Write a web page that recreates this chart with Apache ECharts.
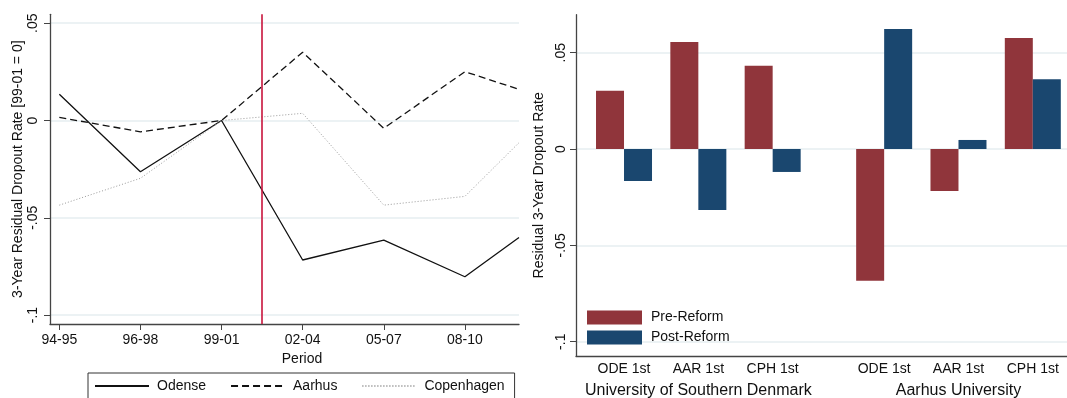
<!DOCTYPE html>
<html>
<head>
<meta charset="utf-8">
<script src="https://cdn.jsdelivr.net/npm/echarts@6/dist/echarts.min.js"></script>
<style>
  html, body { margin: 0; padding: 0; background: #fff; }
  #chart { width: 1067px; height: 398px; }
</style>
</head>
<body>
<div id="chart"></div>
<script>
// Left panel: residual dropout rate by period, normalised to 99-01
const periodLabels = ['94-95', '96-98', '99-01', '02-04', '05-07', '08-10'];
const periodIndex = [1, 2, 3, 4, 5, 6, 6.667];
const odense = [0.0135, -0.0263, 0, -0.0717, -0.0615, -0.0803, -0.0601];
const aarhus = [0.0016, -0.0058, 0, 0.0351, -0.0040, 0.0251, 0.0160];
const copenhagen = [-0.0435, -0.0297, 0, 0.0037, -0.0435, -0.0390, -0.0114];
const reformPeriod = 3.5;

// Right panel: residual 3-year dropout rate by university and applicant group
const deptLabels = ['ODE 1st', 'AAR 1st', 'CPH 1st', 'ODE 1st', 'AAR 1st', 'CPH 1st'];
const deptPos = [1, 2, 3, 4.5, 5.5, 6.5];
const universityLabels = ['University of Southern Denmark', 'Aarhus University'];
const universityPos = [2, 5.5];
const preReform = [0.0303, 0.0555, 0.0432, -0.0684, -0.0218, 0.0576];
const postReform = [-0.0166, -0.0317, -0.0119, 0.0623, 0.0047, 0.0362];

// Shared y ticks
const yTickValues = [-0.1, -0.05, 0, 0.05];
const yTickLabels = ['-.1', '-.05', '0', '.05'];

const FONT = "'Liberation Sans', Arial, sans-serif";
const AXIS_COLOR = '#444';
const GRID_COLOR = '#e6eef0';

function lookup(values, labels) {
  return function (v) {
    for (let i = 0; i < values.length; i++) {
      if (Math.abs(values[i] - v) < 1e-9) return labels[i];
    }
    return '';
  };
}

function pairs(xs, ys) { return ys.map((y, i) => [xs[i], y]); }

function yAxis(gridIndex, min, max, name, nameGap, labelMargin) {
  return {
    gridIndex: gridIndex, type: 'value', min: min, max: max,
    name: name, nameLocation: 'middle', nameRotate: 90, nameGap: nameGap,
    nameTextStyle: { fontSize: 14, color: '#111', fontFamily: FONT },
    axisLine: { show: true, onZero: false, lineStyle: { color: AXIS_COLOR, width: 1.3 } },
    axisTick: { show: true, length: 6, customValues: yTickValues, lineStyle: { color: AXIS_COLOR } },
    axisLabel: {
      customValues: yTickValues, rotate: 90, fontSize: 14, color: '#111', fontFamily: FONT,
      margin: labelMargin, formatter: lookup(yTickValues, yTickLabels)
    },
    splitLine: { show: true, lineStyle: { color: GRID_COLOR, width: 1.5 } }
  };
}

const chart = echarts.init(document.getElementById('chart'), null, { renderer: 'canvas' });

chart.setOption({
  animation: false,
  backgroundColor: '#fff',
  textStyle: { fontFamily: FONT },
  grid: [
    { left: 50, top: 14.3, width: 469, height: 309.7, containLabel: false, outerBoundsMode: 'none' },
    { left: 576, top: 14.7, width: 491, height: 341.3, containLabel: false, outerBoundsMode: 'none' }
  ],
  legend: [
    {
      data: ['Odense', 'Aarhus', 'Copenhagen'],
      left: 88, top: 373, orient: 'horizontal',
      itemWidth: 54, itemHeight: 14, itemGap: 24,
      padding: [6, 10, 6, 6],
      borderColor: '#333', borderWidth: 1,
      itemStyle: { opacity: 0 },
      textStyle: { fontSize: 14, color: '#111', fontFamily: FONT, padding: [0, 0, 0, 3] }
    },
    {
      data: ['Pre-Reform', 'Post-Reform'],
      left: 587, top: 310.5, orient: 'vertical',
      itemWidth: 55, itemHeight: 14, itemGap: 6, padding: 0,
      icon: 'rect',
      textStyle: { fontSize: 14, color: '#111', fontFamily: FONT, padding: [0, 0, 0, 4] }
    }
  ],
  xAxis: [
    {
      gridIndex: 0, type: 'value', min: 0.885, max: 6.667,
      name: 'Period', nameLocation: 'middle', nameGap: 23,
      nameTextStyle: { fontSize: 14, color: '#111', fontFamily: FONT, padding: [0, 0, 0, 35] },
      axisLine: { show: true, onZero: false, lineStyle: { color: AXIS_COLOR, width: 1.3 } },
      axisTick: { show: true, length: 6, customValues: [1, 2, 3, 4, 5, 6], lineStyle: { color: AXIS_COLOR } },
      axisLabel: {
        customValues: [1, 2, 3, 4, 5, 6], fontSize: 14, color: '#111', margin: 9, fontFamily: FONT,
        formatter: lookup([1, 2, 3, 4, 5, 6], periodLabels)
      },
      splitLine: { show: false }
    },
    {
      gridIndex: 1, type: 'value', min: 0.354, max: 6.96, position: 'bottom',
      axisLine: { show: true, onZero: false, lineStyle: { color: AXIS_COLOR, width: 1.3 } },
      axisTick: { show: false },
      axisLabel: {
        customValues: deptPos, fontSize: 14, color: '#111', margin: 6, fontFamily: FONT,
        formatter: lookup(deptPos, deptLabels)
      },
      splitLine: { show: false }
    },
    {
      gridIndex: 1, type: 'value', min: 0.354, max: 6.96, position: 'bottom', offset: 24,
      axisLine: { show: false, onZero: false },
      axisTick: { show: false },
      axisLabel: {
        customValues: universityPos, fontSize: 16, color: '#111', margin: 3, fontFamily: FONT,
        formatter: lookup(universityPos, universityLabels)
      },
      splitLine: { show: false }
    }
  ],
  yAxis: [
    yAxis(0, -0.1046, 0.0546, '3-Year Residual Dropout Rate [99-01 = 0]', 24, 10),
    yAxis(1, -0.1074, 0.0697, 'Residual 3-Year Dropout Rate', 30, 8)
  ],
  series: [
    {
      name: 'Odense', type: 'line', xAxisIndex: 0, yAxisIndex: 0,
      data: pairs(periodIndex, odense), symbol: 'none',
      lineStyle: { color: '#111', width: 1.3, type: 'solid' },
      itemStyle: { color: '#111' },
      markLine: {
        silent: true, symbol: 'none', label: { show: false },
        lineStyle: { color: '#c8143c', width: 1.6, type: 'solid' },
        data: [{ xAxis: reformPeriod }]
      }
    },
    {
      name: 'Aarhus', type: 'line', xAxisIndex: 0, yAxisIndex: 0,
      data: pairs(periodIndex, aarhus), symbol: 'none',
      lineStyle: { color: '#111', width: 1.3, type: [7, 4] },
      itemStyle: { color: '#111' }
    },
    {
      name: 'Copenhagen', type: 'line', xAxisIndex: 0, yAxisIndex: 0,
      data: pairs(periodIndex, copenhagen), symbol: 'none',
      lineStyle: { color: '#9a9a9a', width: 1, type: [1, 2] },
      itemStyle: { color: '#9a9a9a' }
    },
    {
      name: 'Pre-Reform', type: 'bar', xAxisIndex: 1, yAxisIndex: 1,
      data: pairs(deptPos, preReform), barWidth: 28, barGap: '0%',
      itemStyle: { color: '#90353b' }
    },
    {
      name: 'Post-Reform', type: 'bar', xAxisIndex: 1, yAxisIndex: 1,
      data: pairs(deptPos, postReform), barWidth: 28, barGap: '0%',
      itemStyle: { color: '#1a476f' }
    }
  ]
});
</script>
</body>
</html>
